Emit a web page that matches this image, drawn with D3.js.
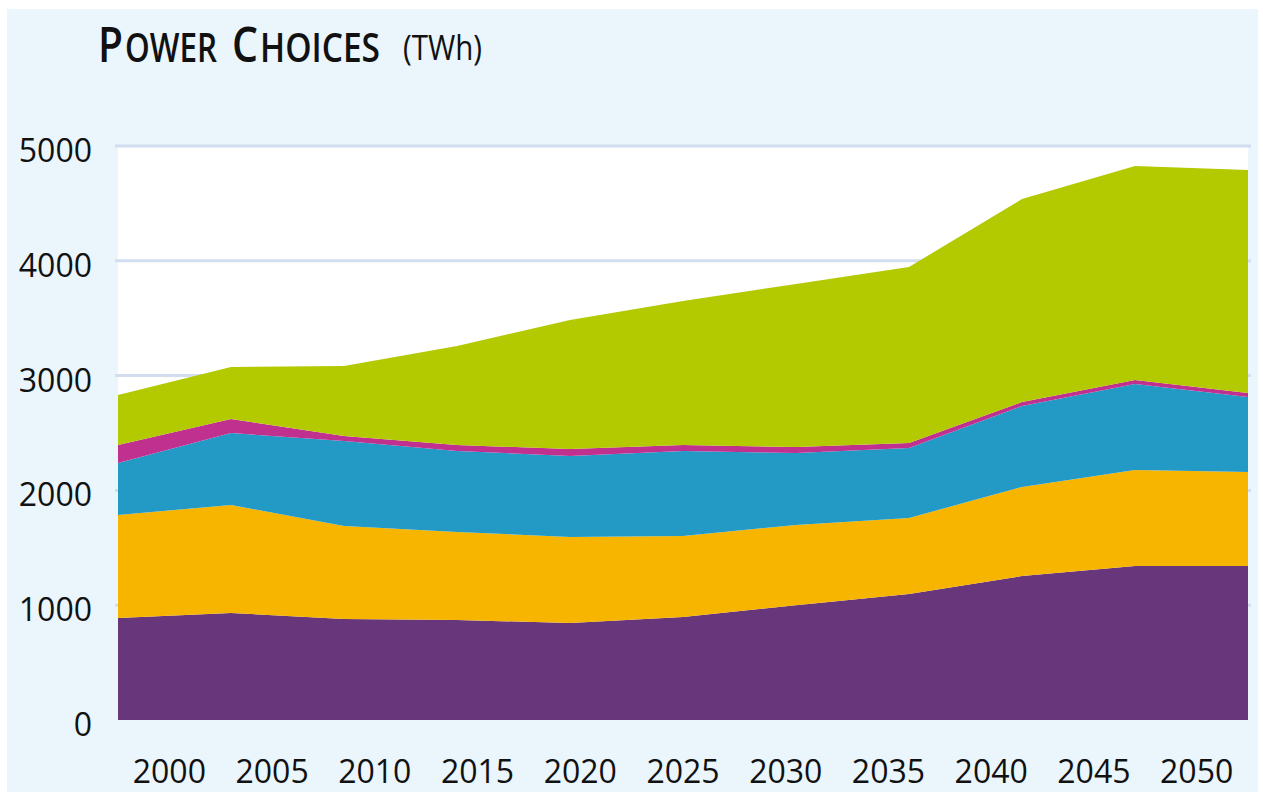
<!DOCTYPE html>
<html>
<head>
<meta charset="utf-8">
<script src="https://cdn.jsdelivr.net/npm/d3@7"></script>
<style>
  body { margin: 0; background: #fff; }
  text { font-family: "Open Sans", sans-serif; fill: #111; }
</style>
</head>
<body>
<svg id="chart" width="1263" height="795"></svg>
<script>
// years shown under the axis
var years = ["2000", "2005", "2010", "2015", "2020", "2025", "2030", "2035", "2040", "2045", "2050"];
var yTicks = [0, 1000, 2000, 3000, 4000, 5000];

// stacked series, bottom to top (TWh)
var purple  = [889, 932, 880, 871, 845, 897, 1000, 1098, 1254, 1341, 1341];
var orange  = [897, 941, 810, 767, 749, 706, 699, 662, 776, 837, 819];
var blue    = [453, 627, 740, 705, 706, 740, 627, 609, 705, 749, 654];
var magenta = [156, 122, 44, 52, 60, 52, 52, 44, 35, 35, 34];
var green   = [436, 453, 610, 863, 1124, 1255, 1420, 1533, 1768, 1864, 1943];

var seriesNames = ["purple", "orange", "blue", "magenta", "green"];
var colors = ["#68367b", "#f7b500", "#239ac6", "#c0318f", "#b3c900"];

var svg = d3.select("#chart");

// outer panel
svg.append("rect")
  .attr("x", 7).attr("y", 9)
  .attr("width", 1251).attr("height", 783)
  .attr("fill", "#eaf5fc");

// plot box (careful: "top" is taken by window)
var plotL = 118, plotR = 1248, plotT = 146, plotB = 720;

// white plot area
svg.append("rect")
  .attr("x", plotL).attr("y", plotT)
  .attr("width", plotR - plotL).attr("height", plotB - plotT)
  .attr("fill", "#fff");

var idx = d3.range(years.length);
var x = d3.scalePoint().domain(idx).range([plotL, plotR]);
var xBand = d3.scaleBand().domain(years).range([plotL, plotR]);
var y = d3.scaleLinear().domain([0, 5000]).range([plotB, plotT]);

// gridlines
svg.append("g").selectAll("line")
  .data(yTicks.filter(function(d){ return d > 0; }))
  .enter().append("line")
  .attr("x1", plotL - 3).attr("x2", plotR + 3)
  .attr("y1", function(d){ return y(d); })
  .attr("y2", function(d){ return y(d); })
  .attr("stroke", "#d3ddf0")
  .attr("stroke-width", 3);

// stack it up
var rows = idx.map(function(i){
  return { i: i, purple: purple[i], orange: orange[i], blue: blue[i], magenta: magenta[i], green: green[i] };
});
var stacked = d3.stack().keys(seriesNames)(rows);

var area = d3.area()
  .x(function(d){ return x(d.data.i); })
  .y0(function(d){ return y(d[0]); })
  .y1(function(d){ return y(d[1]); });

svg.append("g").selectAll("path")
  .data(stacked)
  .enter().append("path")
  .attr("d", area)
  .attr("fill", function(d, k){ return colors[k]; });

// y axis labels
svg.append("g").selectAll("text")
  .data(yTicks)
  .enter().append("text")
  .attr("x", 92)
  .attr("y", function(d){ return y(d) + 16; })
  .attr("text-anchor", "end")
  .attr("font-size", 32)
  .text(function(d){ return d; });

// x axis labels, centred in each band
svg.append("g").selectAll("text")
  .data(years)
  .enter().append("text")
  .attr("x", function(d){ return xBand(d) + xBand.bandwidth() / 2; })
  .attr("y", 783)
  .attr("text-anchor", "middle")
  .attr("font-size", 32)
  .text(function(d){ return d; });

// title, small caps done by hand: each piece its own text so nothing overlaps
var titleBits = [
  { t: "P",      x: 98,  w: 25,  s: 48 },
  { t: "OWER",   x: 125, w: 92,  s: 40 },
  { t: "C",      x: 232, w: 26,  s: 48 },
  { t: "HOICES", x: 260, w: 120, s: 40 }
];
svg.append("g").selectAll("text")
  .data(titleBits)
  .enter().append("text")
  .attr("x", function(d){ return d.x; })
  .attr("y", 62)
  .attr("font-weight", 600)
  .attr("font-size", function(d){ return d.s; })
  .attr("textLength", function(d){ return d.w; })
  .attr("lengthAdjust", "spacingAndGlyphs")
  .text(function(d){ return d.t; });

svg.append("text")
  .attr("x", 403).attr("y", 60)
  .attr("font-size", 34)
  .attr("textLength", 79)
  .attr("lengthAdjust", "spacingAndGlyphs")
  .text("(TWh)");
</script>
</body>
</html>
